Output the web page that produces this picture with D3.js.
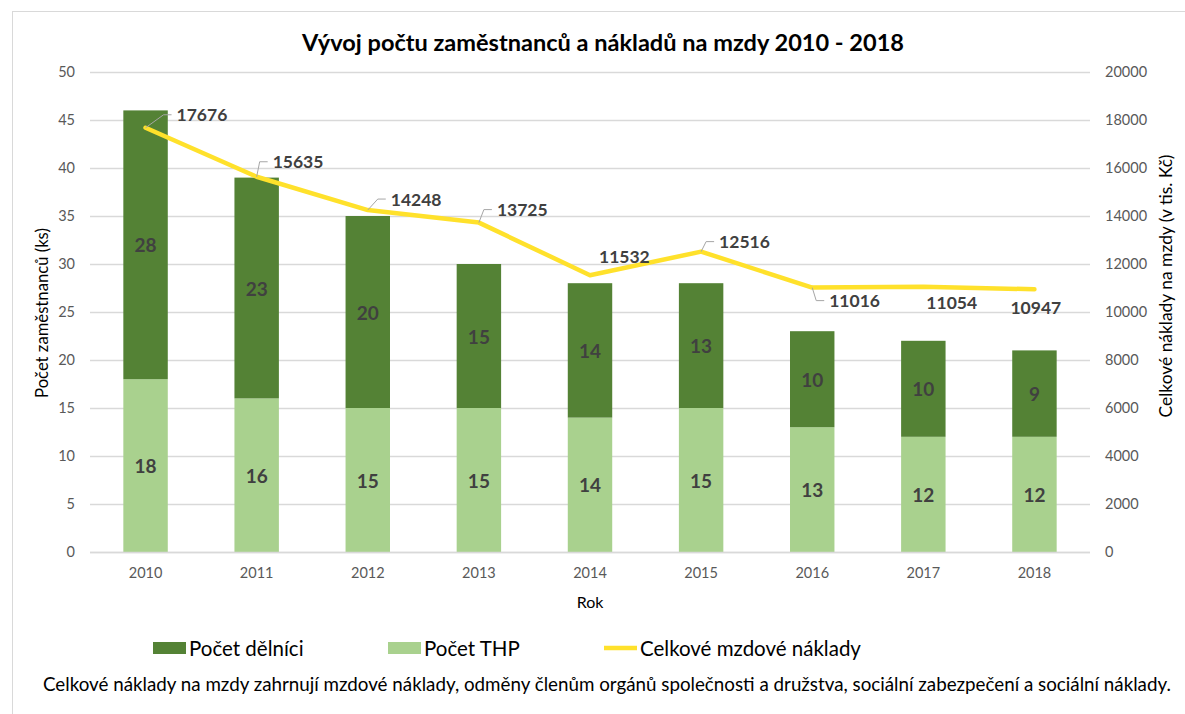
<!DOCTYPE html>
<html>
<head>
<meta charset="utf-8">
<script src="https://cdn.jsdelivr.net/npm/d3@7"></script>
<style>
  html, body { margin: 0; padding: 0; background: #fff; }
  svg { display: block; font-family: Lato, "Noto Sans", sans-serif; }
</style>
</head>
<body>
<svg id="chart" width="1185" height="714"></svg>
<script>
// data
const years = ["2010", "2011", "2012", "2013", "2014", "2015", "2016", "2017", "2018"];
const thp = [18, 16, 15, 15, 14, 15, 13, 12, 12];
const delnici = [28, 23, 20, 15, 14, 13, 10, 10, 9];
const naklady = [17676, 15635, 14248, 13725, 11532, 12516, 11016, 11054, 10947];
const leftTicks = [0, 5, 10, 15, 20, 25, 30, 35, 40, 45, 50];
const rightTicks = [0, 2000, 4000, 6000, 8000, 10000, 12000, 14000, 16000, 18000, 20000];

// where Excel put the cost labels (offset of text start / middle from the point)
const labelPos = [
  { dx: 31, dy: -13, leader: true },
  { dx: 16, dy: -15, leader: true },
  { dx: 23, dy: -11, leader: true },
  { dx: 18, dy: -13, leader: true },
  { dx: 9, dy: -19, leader: false },
  { dx: 18, dy: -10, leader: true },
  { dx: 17, dy: 13, leader: true },
  { dx: 3, dy: 16, leader: false },
  { dx: -24, dy: 18, leader: false }
];

const DARK = "#548235", LIGHT = "#A9D18E", YELLOW = "#FFE12B";
const GRID = "#D9D9D9", TICK = "#595959", LABEL = "#404040";

const svg = d3.select("#chart");

// fit helper: scale font so the text spans the measured width
function fit(sel, width) {
  const node = sel.node();
  const fs = parseFloat(sel.attr("font-size"));
  const len = node.getComputedTextLength();
  sel.attr("font-size", (fs * width / len).toFixed(2));
  return sel;
}

// chart border
svg.append("rect")
  .attr("x", 12.5).attr("y", 11.5)
  .attr("width", 1200).attr("height", 720)
  .attr("fill", "none")
  .attr("stroke", GRID);

const x = d3.scaleBand()
  .domain(years)
  .range([90, 1090])
  .paddingInner(0.6)
  .paddingOuter(0.3);

const yL = d3.scaleLinear().domain([0, 50]).range([552, 72]);
const yR = d3.scaleLinear().domain([0, 20000]).range([552, 72]);

// title
fit(svg.append("text")
  .attr("x", 603).attr("y", 42)
  .attr("text-anchor", "middle")
  .attr("dominant-baseline", "central")
  .attr("font-size", 20)
  .attr("font-weight", "bold")
  .attr("fill", "#000")
  .text("Vývoj počtu zaměstnanců a nákladů na mzdy 2010 - 2018"), 602);

// gridlines
svg.append("g")
  .selectAll("line")
  .data(leftTicks)
  .join("line")
  .attr("x1", 90).attr("x2", 1090)
  .attr("y1", d => Math.round(yL(d)) + 0.5)
  .attr("y2", d => Math.round(yL(d)) + 0.5)
  .attr("stroke", GRID)
  .attr("stroke-width", 1.3);

// left axis
const axisL = svg.append("g")
  .attr("transform", "translate(90,0)")
  .call(d3.axisLeft(yL).tickValues(leftTicks).tickSize(0).tickPadding(15));
axisL.select(".domain").remove();
axisL.selectAll("text")
  .attr("font-family", "Lato, sans-serif")
  .attr("font-size", 14.5)
  .attr("fill", TICK);

// right axis
const axisR = svg.append("g")
  .attr("transform", "translate(1090,0)")
  .call(d3.axisRight(yR).tickValues(rightTicks).tickFormat(d3.format("d")).tickSize(0).tickPadding(15));
axisR.select(".domain").remove();
axisR.selectAll("text")
  .attr("font-family", "Lato, sans-serif")
  .attr("font-size", 14.5)
  .attr("fill", TICK);

// stacked bars
const stacked = years.map((yr, i) => ({ yr, thp: thp[i], del: delnici[i] }));
const series = d3.stack().keys(["thp", "del"])(stacked);
const colors = { thp: LIGHT, del: DARK };

const bars = svg.append("g");
series.forEach(s => {
  bars.append("g")
    .attr("fill", colors[s.key])
    .selectAll("rect")
    .data(s)
    .join("rect")
    .attr("x", d => x(d.data.yr))
    .attr("width", x.bandwidth())
    .attr("y", d => yL(d[1]))
    .attr("height", d => yL(d[0]) - yL(d[1]));
});

// bar labels
series.forEach(s => {
  svg.append("g")
    .selectAll("text")
    .data(s)
    .join("text")
    .attr("x", d => x(d.data.yr) + x.bandwidth() / 2)
    .attr("y", d => yL((d[0] + d[1]) / 2))
    .attr("text-anchor", "middle")
    .attr("dominant-baseline", "central")
    .attr("font-size", 19)
    .attr("font-weight", "bold")
    .attr("fill", LABEL)
    .text(d => d[1] - d[0]);
});

// x axis
svg.append("line")
  .attr("x1", 90).attr("x2", 1090)
  .attr("y1", 552.5).attr("y2", 552.5)
  .attr("stroke", GRID).attr("stroke-width", 1.3);
const axisB = svg.append("g")
  .attr("transform", "translate(0,552)")
  .call(d3.axisBottom(x).tickSize(0).tickPadding(16));
axisB.select(".domain").remove();
axisB.selectAll("text")
  .attr("font-family", "Lato, sans-serif")
  .attr("font-size", 14.5)
  .attr("fill", TICK);

// cost line
const cx = i => x(years[i]) + x.bandwidth() / 2;
const line = d3.line()
  .x((d, i) => cx(i))
  .y(d => yR(d));

svg.append("path")
  .datum(naklady)
  .attr("d", line)
  .attr("fill", "none")
  .attr("stroke", YELLOW)
  .attr("stroke-width", 4.5)
  .attr("stroke-linejoin", "round")
  .attr("stroke-linecap", "round");

// cost labels + leaders
naklady.forEach((v, i) => {
  const px = cx(i), py = yR(v);
  const p = labelPos[i];
  const tx = px + p.dx, ty = py + p.dy;
  if (p.leader) {
    svg.append("path")
      .attr("d", `M${px},${py} L${tx - 13},${ty} L${tx - 5},${ty}`)
      .attr("fill", "none")
      .attr("stroke", "#A6A6A6")
      .attr("stroke-width", 1);
  }
  svg.append("text")
    .attr("x", tx).attr("y", ty)
    .attr("dominant-baseline", "central")
    .attr("font-size", 17.5)
    .attr("font-weight", "bold")
    .attr("fill", LABEL)
    .text(v);
});

// axis titles
fit(svg.append("text")
  .attr("transform", "translate(42,313) rotate(-90)")
  .attr("text-anchor", "middle")
  .attr("dominant-baseline", "central")
  .attr("font-size", 16)
  .attr("fill", "#000")
  .text("Počet zaměstnanců (ks)"), 170);

fit(svg.append("text")
  .attr("transform", "translate(1165,286) rotate(-90)")
  .attr("text-anchor", "middle")
  .attr("dominant-baseline", "central")
  .attr("font-size", 16)
  .attr("fill", "#000")
  .text("Celkové náklady na mzdy (v tis. Kč)"), 263);

svg.append("text")
  .attr("x", 590).attr("y", 601)
  .attr("text-anchor", "middle")
  .attr("dominant-baseline", "central")
  .attr("font-size", 16)
  .attr("fill", "#000")
  .text("Rok");

// legend
const legend = svg.append("g");
const legItems = [
  { name: "Počet dělníci", color: DARK, type: "rect", x: 153 },
  { name: "Počet THP", color: LIGHT, type: "rect", x: 388 },
  { name: "Celkové mzdové náklady", color: YELLOW, type: "line", x: 604 }
];
let legSize = 18;
{
  const probe = svg.append("text").attr("font-size", 18).text(legItems[2].name);
  legSize = 18 * 221 / probe.node().getComputedTextLength();
  probe.remove();
}
legItems.forEach(it => {
  if (it.type === "rect") {
    legend.append("rect")
      .attr("x", it.x).attr("y", 642)
      .attr("width", 33).attr("height", 12)
      .attr("fill", it.color);
  } else {
    legend.append("line")
      .attr("x1", it.x).attr("x2", it.x + 33)
      .attr("y1", 648).attr("y2", 648)
      .attr("stroke", it.color).attr("stroke-width", 4.5);
  }
  legend.append("text")
    .attr("x", it.x + 36).attr("y", 648)
    .attr("dominant-baseline", "central")
    .attr("font-size", legSize.toFixed(2))
    .attr("fill", "#000")
    .text(it.name);
});

// footnote
fit(svg.append("text")
  .attr("x", 43).attr("y", 683)
  .attr("dominant-baseline", "central")
  .attr("font-size", 16)
  .attr("fill", "#000")
  .text("Celkové náklady na mzdy zahrnují mzdové náklady, odměny členům orgánů společnosti a družstva, sociální zabezpečení a sociální náklady."), 1129);
</script>
</body>
</html>
